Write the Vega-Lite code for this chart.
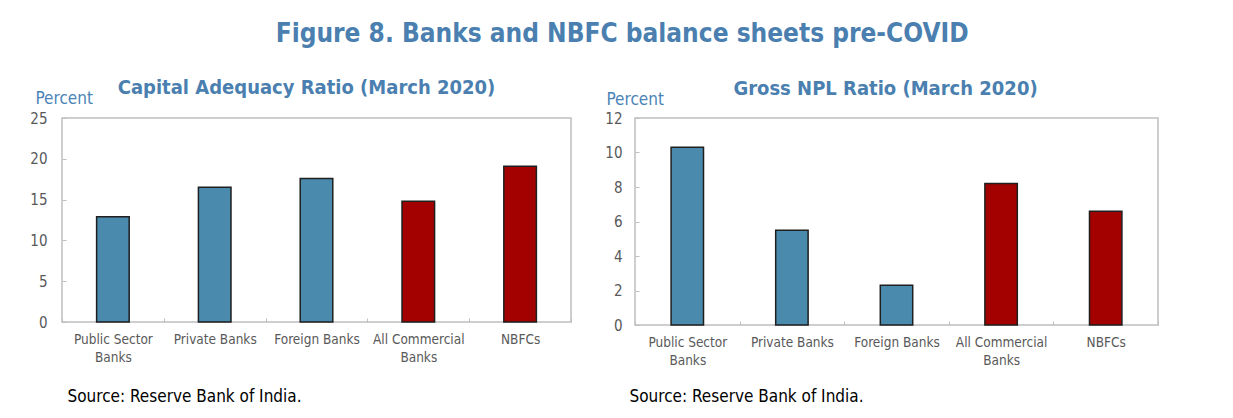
{
  "$schema": "https://vega.github.io/schema/vega-lite/v6.json",
  "padding": {"left": 29, "top": 21, "right": 0, "bottom": 0},
  "background": "white",
  "bounds": "flush",
  "spacing": 64,
  "title": {
    "text": "Figure 8. Banks and NBFC balance sheets pre-COVID",
    "font": "Liberation Sans Narrow, DejaVu Sans Condensed, Lato, sans-serif",
    "fontSize": 26,
    "fontWeight": "bold",
    "color": "#4a7fb0",
    "anchor": "middle",
    "offset": 30,
    "dx": 28
  },
  "config": {
    "font": "Liberation Sans Narrow, DejaVu Sans Condensed, Lato, sans-serif",
    "view": {"stroke": "#bfbfbf", "strokeWidth": 1.5},
    "title": {
      "font": "Liberation Sans Narrow, DejaVu Sans Condensed, Lato, sans-serif",
      "fontSize": 20,
      "fontWeight": "bold",
      "color": "#4a7fb0",
      "offset": -9
    },
    "axis": {
      "labelFont": "Liberation Sans Narrow, DejaVu Sans Condensed, Lato, sans-serif",
      "titleFont": "Liberation Sans Narrow, DejaVu Sans Condensed, Lato, sans-serif",
      "labelColor": "#595959",
      "domain": false,
      "grid": false,
      "tickColor": "#bfbfbf",
      "tickWidth": 1
    }
  },
  "hconcat": [
    {
      "width": 509,
      "height": 204,
      "title": {"text": "Capital Adequacy Ratio  (March 2020)", "dx": -10},
      "data": {
        "values": [
          {"category": "Public Sector Banks", "group": "Banks", "value": 12.9},
          {"category": "Private Banks", "group": "Banks", "value": 16.5},
          {"category": "Foreign Banks", "group": "Banks", "value": 17.6},
          {"category": "All Commercial Banks", "group": "Aggregate", "value": 14.8},
          {"category": "NBFCs", "group": "Aggregate", "value": 19.1}
        ]
      },
      "mark": {"type": "bar", "width": {"band": 0.32}, "stroke": "#1f1f1f", "strokeWidth": 1.5},
      "encoding": {
        "x": {
          "field": "category",
          "type": "nominal",
          "sort": null,
          "scale": {"paddingInner": 0, "paddingOuter": 0},
          "axis": {
            "labelAngle": 0,
            "labelFontSize": 13.5,
            "labelLineHeight": 18,
            "labelPadding": 14,
            "labelBaseline": "top",
            "tickBand": "extent",
            "tickSize": -4,
            "labelExpr": "datum.label == 'Public Sector Banks' ? ['Public Sector', 'Banks'] : datum.label == 'All Commercial Banks' ? ['All Commercial', 'Banks'] : datum.label",
            "title": "Source: Reserve Bank of India.",
            "titleFontSize": 17,
            "titleFontWeight": "normal",
            "titleColor": "#000000",
            "titleAnchor": "start",
            "titleAlign": "left",
            "titleBaseline": "alphabetic",
            "titleX": 5,
            "titleY": 79
          }
        },
        "y": {
          "field": "value",
          "type": "quantitative",
          "scale": {"domain": [0, 25], "nice": false},
          "axis": {
            "values": [0, 5, 10, 15, 20, 25],
            "labelFontSize": 15,
            "labelPadding": 19,
            "tickSize": -4,
            "title": "Percent",
            "titleFontSize": 17,
            "titleFontWeight": "normal",
            "titleColor": "#4a83b8",
            "titleAngle": 0,
            "titleAlign": "left",
            "titleBaseline": "alphabetic",
            "titleX": -27,
            "titleY": -15
          }
        },
        "color": {
          "field": "group",
          "type": "nominal",
          "scale": {"domain": ["Banks", "Aggregate"], "range": ["#4a8aad", "#a30000"]},
          "legend": null
        }
      }
    },
    {
      "width": 523,
      "height": 207,
      "title": {"text": "Gross NPL Ratio (March 2020)", "dx": -11},
      "data": {
        "values": [
          {"category": "Public Sector Banks", "group": "Banks", "value": 10.3},
          {"category": "Private Banks", "group": "Banks", "value": 5.5},
          {"category": "Foreign Banks", "group": "Banks", "value": 2.3},
          {"category": "All Commercial Banks", "group": "Aggregate", "value": 8.2},
          {"category": "NBFCs", "group": "Aggregate", "value": 6.6}
        ]
      },
      "mark": {"type": "bar", "width": {"band": 0.31}, "stroke": "#1f1f1f", "strokeWidth": 1.5},
      "encoding": {
        "x": {
          "field": "category",
          "type": "nominal",
          "sort": null,
          "scale": {"paddingInner": 0, "paddingOuter": 0},
          "axis": {
            "labelAngle": 0,
            "labelFontSize": 13.5,
            "labelLineHeight": 18,
            "labelPadding": 14,
            "labelBaseline": "top",
            "tickBand": "extent",
            "tickSize": -4,
            "labelExpr": "datum.label == 'Public Sector Banks' ? ['Public Sector', 'Banks'] : datum.label == 'All Commercial Banks' ? ['All Commercial', 'Banks'] : datum.label",
            "title": "Source: Reserve Bank of India.",
            "titleFontSize": 17,
            "titleFontWeight": "normal",
            "titleColor": "#000000",
            "titleAnchor": "start",
            "titleAlign": "left",
            "titleBaseline": "alphabetic",
            "titleX": -6,
            "titleY": 76
          }
        },
        "y": {
          "field": "value",
          "type": "quantitative",
          "scale": {"domain": [0, 12], "nice": false},
          "axis": {
            "values": [0, 2, 4, 6, 8, 10, 12],
            "labelFontSize": 15,
            "labelPadding": 17,
            "tickSize": -4,
            "title": "Percent",
            "titleFontSize": 17,
            "titleFontWeight": "normal",
            "titleColor": "#4a83b8",
            "titleAngle": 0,
            "titleAlign": "left",
            "titleBaseline": "alphabetic",
            "titleX": -29,
            "titleY": -14
          }
        },
        "color": {
          "field": "group",
          "type": "nominal",
          "scale": {"domain": ["Banks", "Aggregate"], "range": ["#4a8aad", "#a30000"]},
          "legend": null
        }
      }
    }
  ]
}
